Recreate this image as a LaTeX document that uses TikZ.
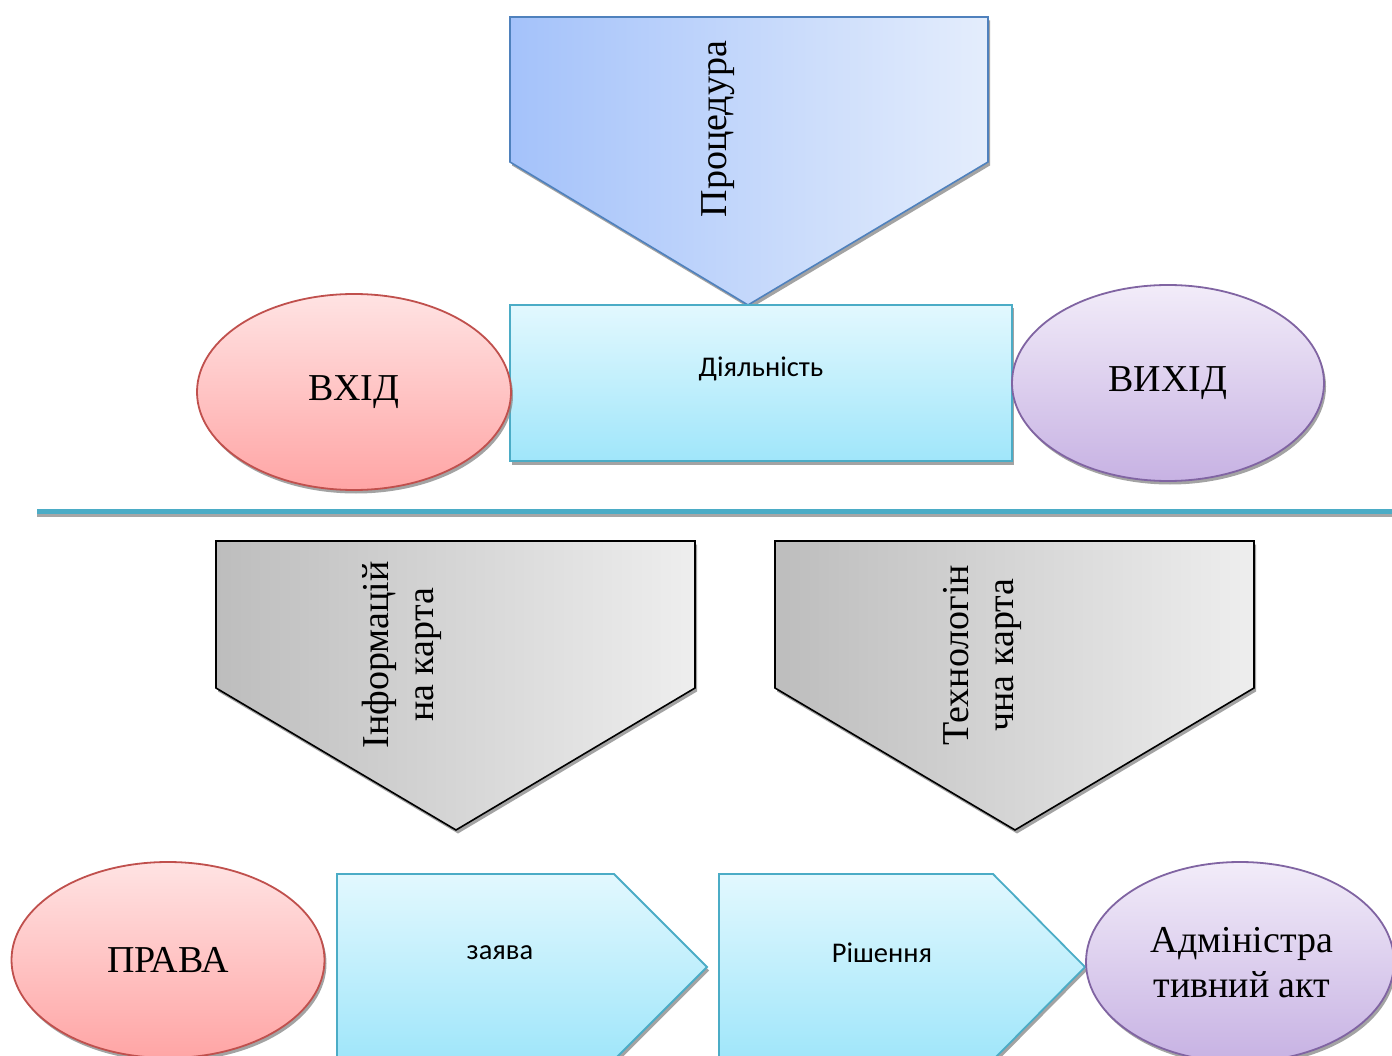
\documentclass[tikz,border=0pt]{standalone}
\usepackage{fontspec}
\setmainfont{Liberation Serif}
\newfontfamily\uisans{Carlito}
\usetikzlibrary{shapes.geometric,shadows}

% palette
\definecolor{procL}{HTML}{A4C2FA}
\definecolor{procR}{HTML}{E4EDFC}
\definecolor{procEdge}{HTML}{4F81BD}
\definecolor{cyanTop}{HTML}{E2F8FE}
\definecolor{cyanBot}{HTML}{A0E6FA}
\definecolor{cyanEdge}{HTML}{4BACC6}
\definecolor{redTop}{HTML}{FFE3E3}
\definecolor{redBot}{HTML}{FFA5A5}
\definecolor{redEdge}{HTML}{C0504D}
\definecolor{violTop}{HTML}{F2ECF9}
\definecolor{violBot}{HTML}{C7B2E3}
\definecolor{violEdge}{HTML}{8064A2}
\definecolor{greyL}{HTML}{BDBDBD}
\definecolor{greyR}{HTML}{EEEEEE}

\begin{document}
\begin{tikzpicture}[x=1pt,y=-1pt,
  softshade/.style={drop shadow={shadow xshift=2pt,shadow yshift=-3.5pt,fill=black!45,opacity=0.8}},
  procbox/.style={softshade,draw=procEdge,line width=1.6pt,left color=procL,right color=procR},
  greybox/.style={softshade,draw=black,line width=1.6pt,left color=greyL,right color=greyR},
  cyanbox/.style={softshade,draw=cyanEdge,line width=1.8pt,top color=cyanTop,bottom color=cyanBot},
  redoval/.style={ellipse,softshade,draw=redEdge,line width=1.8pt,top color=redTop,bottom color=redBot,inner sep=0pt},
  violoval/.style={ellipse,softshade,draw=violEdge,line width=1.8pt,top color=violTop,bottom color=violBot,inner sep=0pt},
  serifbig/.style={font=\fontsize{38}{45}\selectfont,align=center,inner sep=0pt},
  sanslabel/.style={font=\uisans\fontsize{28.5}{34}\selectfont,inner sep=0pt}
]
\useasboundingbox (0,0) rectangle (1392,1056);
\clip (0,0) rectangle (1392,1056);
\fill[white] (0,0) rectangle (1392,1056);

% --- upper part: procedure over activity -----------------------------
\path[procbox] (510,17) -- (988,17) -- (988,162) -- (748,305) -- (510,162) -- cycle;
\node[serifbig,rotate=90] (proc) at (718,129) {Процедура};

\node[cyanbox,rectangle,minimum width=502pt,minimum height=156pt,inner sep=0pt] (act) at (761,383) {};
\node[sanslabel] (actlabel) at (761,369) {Діяльність};

\node[redoval,minimum width=314pt,minimum height=196pt] (in) at (354,392) {};
\node[serifbig] (inlabel) at (354,392) {ВХІД};

\node[violoval,minimum width=312pt,minimum height=196pt] (out) at (1168,383) {};
\node[serifbig] (outlabel) at (1168,383) {ВИХІД};

% --- separator ---------------------------------------------------------
\coordinate (sepL) at (37,511);
\coordinate (sepR) at (1392,511);
\draw[line width=4pt,black!35] ([yshift=-4pt]sepL) -- ([yshift=-4pt]sepR);
\draw[line width=5pt,cyanEdge] (sepL) -- (sepR);

% --- lower part: cards -------------------------------------------------
\path[greybox] (216,541) -- (695,541) -- (695,688) -- (456,830) -- (216,688) -- cycle;
\node[serifbig,rotate=90] (infocard) at (402,655) {Інформацій\\на карта};

\path[greybox] (775,541) -- (1254,541) -- (1254,688) -- (1015,830) -- (775,688) -- cycle;
\node[serifbig,rotate=90] (techcard) at (982,655) {Технологін\\чна карта};

% --- lower part: process chain ----------------------------------------
\node[redoval,minimum width=313pt,minimum height=196pt] (rights) at (168,960) {};
\node[serifbig] (rightslabel) at (168,960) {ПРАВА};

\path[cyanbox] (337,874) -- (614,874) -- (707,967) -- (614,1060) -- (337,1060) -- cycle;
\node[sanslabel] (claim) at (500,953) {заява};

\path[cyanbox] (719,874) -- (993,874) -- (1085,967) -- (993,1060) -- (719,1060) -- cycle;
\node[sanslabel] (decision) at (882,953) {Рішення};

\node[violoval,minimum width=308pt,minimum height=200pt] (act2) at (1240,962) {};
\node[serifbig] (act2label) at (1242,963) {Адміністра\\тивний акт};
\end{tikzpicture}
\end{document}
